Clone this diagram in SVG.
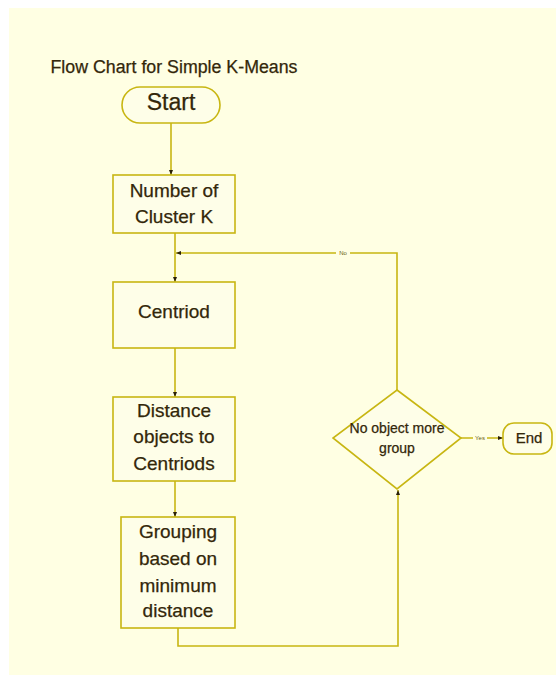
<svg xmlns="http://www.w3.org/2000/svg" width="556" height="675" viewBox="0 0 556 675">
<style>
.n{fill:#fefee8;stroke:#c8b612;stroke-width:1.6}
.t{font-family:"Liberation Sans",Arial,sans-serif;fill:#33270a;stroke:#33270a;stroke-width:0.25;text-anchor:middle}
.c{fill:none;stroke:#c8b612;stroke-width:1.6}
.s{font-family:"Liberation Sans",Arial,sans-serif;fill:#6a5c10;font-size:6px;text-anchor:middle}
</style>
<defs>
<marker id="a" markerWidth="6" markerHeight="6" refX="5" refY="3" orient="auto" markerUnits="userSpaceOnUse">
<path d="M0,1 L5,3 L0,5 Z" fill="#2a2008"/>
</marker>
</defs>
<rect width="556" height="675" fill="#ffffff"/>
<rect x="9" y="8" width="547" height="667" fill="#ffffe3"/>
<text class="t" x="174" y="73" font-size="18" textLength="247" lengthAdjust="spacingAndGlyphs">Flow Chart for Simple K-Means</text>
<g id="connectors">
<path class="c" d="M171,123 V175" marker-end="url(#a)"/>
<path class="c" d="M175,233 V282" marker-end="url(#a)"/>
<path class="c" d="M175,348 V397" marker-end="url(#a)"/>
<path class="c" d="M175,481 V517" marker-end="url(#a)"/>
<path class="c" d="M178,628 V646 H398 V490" marker-end="url(#a)"/>
<path class="c" d="M397,390 V253 H176" marker-end="url(#a)"/>
<path class="c" d="M461,438 H503" marker-end="url(#a)"/>
<rect x="336" y="249" width="14" height="8" fill="#ffffe3"/>
<text class="s" x="343" y="255">No</text>
<rect x="473" y="434" width="14" height="8" fill="#ffffe3"/>
<text class="s" x="480" y="440">Yes</text>
</g>
<g id="start">
<rect class="n" x="122" y="87" width="98" height="36" rx="18"/>
<text class="t" x="171" y="110" font-size="23">Start</text>
</g>
<g id="number">
<rect class="n" x="113" y="175" width="122" height="58"/>
<text class="t" x="174" y="197" font-size="19">Number of</text>
<text class="t" x="174" y="223" font-size="19">Cluster K</text>
</g>
<g id="centroid">
<rect class="n" x="113" y="282" width="122" height="66"/>
<text class="t" x="174" y="318" font-size="19">Centriod</text>
</g>
<g id="distance">
<rect class="n" x="113" y="397" width="122" height="84"/>
<text class="t" x="174" y="417" font-size="19">Distance</text>
<text class="t" x="174" y="443" font-size="19">objects to</text>
<text class="t" x="174" y="470" font-size="19">Centriods</text>
</g>
<g id="grouping">
<rect class="n" x="121" y="517" width="114" height="111"/>
<text class="t" x="178" y="538" font-size="19">Grouping</text>
<text class="t" x="178" y="565" font-size="19">based on</text>
<text class="t" x="178" y="592" font-size="19">minimum</text>
<text class="t" x="178" y="617" font-size="19">distance</text>
</g>
<g id="decision">
<polygon class="n" points="397,390 461,438 397,489 333,438"/>
<text class="t" x="397" y="433" font-size="14">No object more</text>
<text class="t" x="397" y="453" font-size="14">group</text>
</g>
<g id="end">
<rect class="n" x="503" y="423" width="49" height="31" rx="11"/>
<text class="t" x="529" y="443" font-size="15">End</text>
</g>
</svg>
